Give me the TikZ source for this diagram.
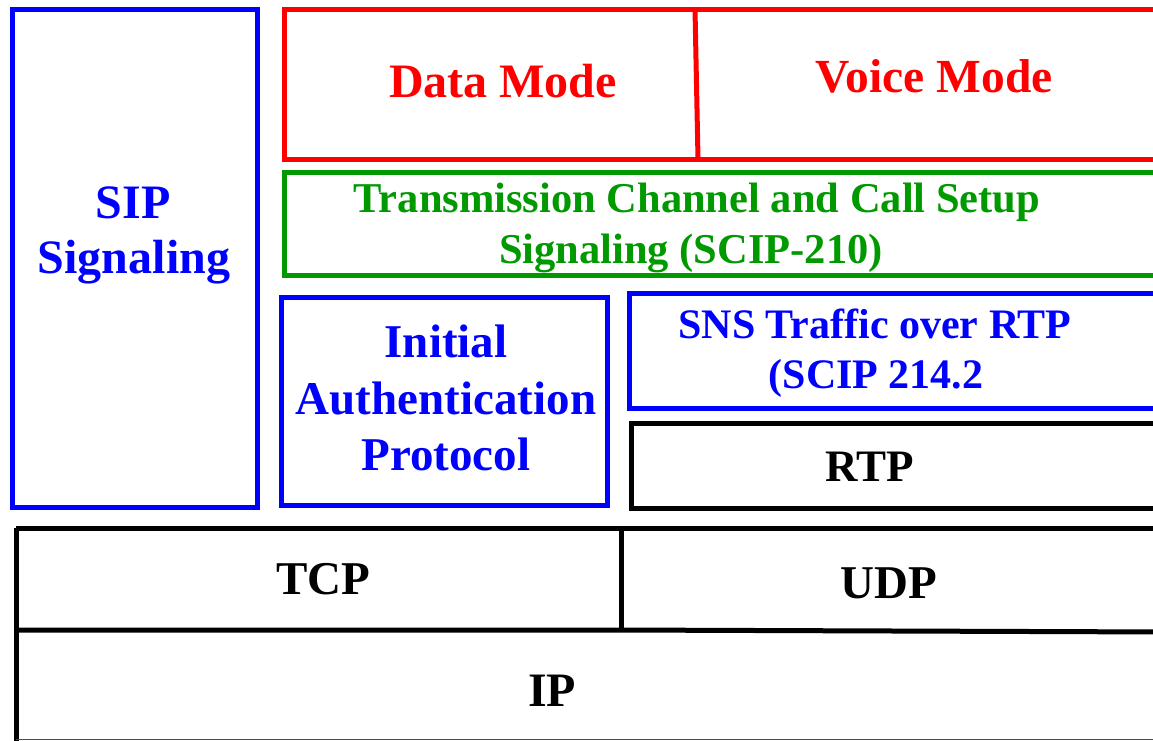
\documentclass[tikz,border=0pt]{standalone}
\usepackage{fontspec}
\setmainfont{Liberation Serif}
\definecolor{sblue}{RGB}{0,0,255}
\definecolor{sred}{RGB}{255,0,0}
\definecolor{sgreen}{RGB}{0,153,0}
\tikzset{
  layer/.style={line width=5pt},
  lbl/.style={anchor=base, inner sep=0pt, font=\bfseries\fontsize{#1}{#1}\selectfont},
}
\begin{document}
\begin{tikzpicture}[x=1pt,y=-1pt]
\clip (0,0) rectangle (1153,740);
\fill[white] (0,0) rectangle (1153,740);
% boxes
\draw[layer, sblue] (12,9.5) rectangle (257,507);
\draw[layer, sred] (284,9.5) rectangle (1170,159);
\draw[layer, sred] (695,9.5) -- (698,159);
\draw[layer, sgreen] (284,172) rectangle (1170,275);
\draw[layer, sblue] (281,297) rectangle (607,505);
\draw[layer, sblue] (629,293) rectangle (1170,408);
\draw[layer, black] (631,423) rectangle (1170,508);
\draw[layer, black] (16,528) -- (1170,528);
\draw[layer, black] (16,528) -- (16,745);
\draw[layer, black] (621,528) -- (621,630);
\draw[layer, black] (16,630) -- (621,630) -- (1170,632);
\draw[line width=1.5pt, black!70] (16,739.5) -- (1170,739.5);
% texts
\node[lbl=48, text=sred] (data) at (503,97) {Data Mode};
\node[lbl=47.5, text=sred] (voice) at (934,92) {Voice Mode};
\node[lbl=42.5, text=sgreen] (tc1) at (697,212) {Transmission Channel and Call Setup};
\node[lbl=42.5, text=sgreen] (tc2) at (691,263) {Signaling (SCIP-210)};
\node[lbl=48, text=sblue] (sip1) at (133,218) {SIP};
\node[lbl=48, text=sblue] (sip2) at (134,273) {Signaling};
\node[lbl=47, text=sblue] (ia1) at (446,357) {Initial};
\node[lbl=47, text=sblue] (ia2) at (446,414) {Authentication};
\node[lbl=47, text=sblue] (ia3) at (446,470) {Protocol};
\node[lbl=42, text=sblue] (sns1) at (875,338) {SNS Traffic over RTP};
\node[lbl=42, text=sblue] (sns2) at (876,388) {(SCIP 214.2};
\node[lbl=45] (rtp) at (870,481) {RTP};
\node[lbl=47] (tcp) at (323,594) {TCP};
\node[lbl=47] (udp) at (889,598) {UDP};
\node[lbl=48] (ip) at (552,706) {IP};
\end{tikzpicture}
\end{document}
